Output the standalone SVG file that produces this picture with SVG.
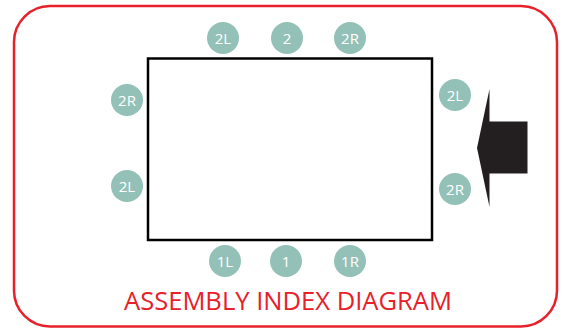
<svg xmlns="http://www.w3.org/2000/svg" width="565" height="328" viewBox="0 0 565 328">
<style>
.m circle{fill:#93c1b7}
.m text{fill:#fff;font-family:"Open Sans",sans-serif;font-size:15px;text-anchor:middle}
</style>
<rect width="565" height="328" fill="#fff"/>
<g id="frame"><rect x="14" y="6" width="543" height="320.5" rx="36" fill="none" stroke="#e8202a" stroke-width="2.5"/></g>
<g id="panel"><rect x="148" y="58.5" width="284" height="181.5" fill="none" stroke="#000" stroke-width="2.5"/></g>
<g id="arrow"><polygon points="477,148 489.5,89 489.5,121.5 527.5,121.5 527.5,173.5 489.5,173.5 489.5,207" fill="#231f20"/></g>
<g id="m-top-2L" class="m"><circle cx="223" cy="38" r="16"/><text x="223" y="43.5">2L</text></g>
<g id="m-top-2" class="m"><circle cx="287" cy="38" r="16"/><text x="287" y="43.5">2</text></g>
<g id="m-top-2R" class="m"><circle cx="350" cy="38" r="16"/><text x="350" y="43.5">2R</text></g>
<g id="m-left-2R" class="m"><circle cx="127" cy="100" r="16"/><text x="127" y="105.5">2R</text></g>
<g id="m-left-2L" class="m"><circle cx="127" cy="186" r="16"/><text x="127" y="191.5">2L</text></g>
<g id="m-right-2L" class="m"><circle cx="455" cy="95" r="16"/><text x="455" y="100.5">2L</text></g>
<g id="m-right-2R" class="m"><circle cx="455" cy="189" r="16"/><text x="455" y="194.5">2R</text></g>
<g id="m-bot-1L" class="m"><circle cx="225" cy="261" r="16"/><text x="225" y="266.5">1L</text></g>
<g id="m-bot-1" class="m"><circle cx="286" cy="261" r="16"/><text x="286" y="266.5">1</text></g>
<g id="m-bot-1R" class="m"><circle cx="350" cy="261" r="16"/><text x="350" y="266.5">1R</text></g>
<g id="connectors"></g>
<text x="124" y="310" fill="#e8202a" font-family="'Open Sans',sans-serif" font-size="25" textLength="328" lengthAdjust="spacingAndGlyphs">ASSEMBLY INDEX DIAGRAM</text>
</svg>
